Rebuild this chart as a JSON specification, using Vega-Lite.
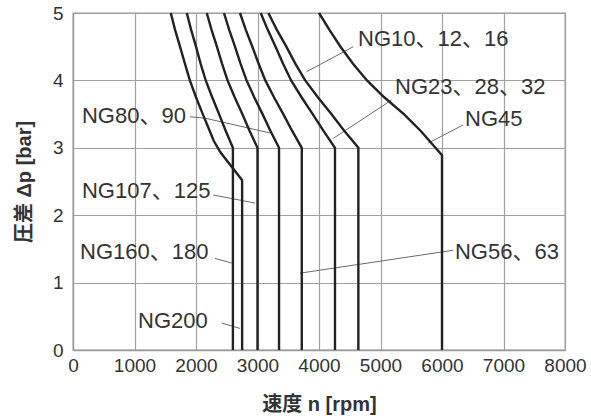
{
  "$schema": "https://vega.github.io/schema/vega-lite/v6.json",
  "width": 492,
  "height": 337,
  "autosize": {"type": "none"},
  "padding": {"left": 73, "top": 13, "right": 26, "bottom": 68},
  "background": "white",
  "config": {
    "font": "Liberation Sans, Noto Sans CJK JP, sans-serif",
    "view": {"stroke": "#9a9a9a", "strokeWidth": 1.3},
    "axis": {
      "grid": true,
      "gridColor": "#a0a0a0",
      "gridWidth": 1.2,
      "domainColor": "#9a9a9a",
      "domainWidth": 1.3,
      "ticks": false,
      "labelOverlap": false,
      "labelFlush": false,
      "labelFontSize": 19,
      "labelColor": "#333333",
      "titleFontSize": 20,
      "titleFontWeight": "bold",
      "titleColor": "#333333"
    }
  },
  "datasets": {
    "curves": [
      {"s": 1, "i": 1, "n": 1590, "p": 5},
      {"s": 1, "i": 2, "n": 1660, "p": 4.75},
      {"s": 1, "i": 3, "n": 1740, "p": 4.5},
      {"s": 1, "i": 4, "n": 1820, "p": 4.25},
      {"s": 1, "i": 5, "n": 1900, "p": 4},
      {"s": 1, "i": 6, "n": 2000, "p": 3.75},
      {"s": 1, "i": 7, "n": 2110, "p": 3.5},
      {"s": 1, "i": 8, "n": 2200, "p": 3.3},
      {"s": 1, "i": 9, "n": 2290, "p": 3.1},
      {"s": 1, "i": 10, "n": 2400, "p": 2.93},
      {"s": 1, "i": 11, "n": 2580, "p": 2.72},
      {"s": 1, "i": 12, "n": 2750, "p": 2.52},
      {"s": 1, "i": 13, "n": 2750, "p": 0},
      {"s": 2, "i": 1, "n": 1850, "p": 5},
      {"s": 2, "i": 2, "n": 1921, "p": 4.75},
      {"s": 2, "i": 3, "n": 2000, "p": 4.5},
      {"s": 2, "i": 4, "n": 2075, "p": 4.25},
      {"s": 2, "i": 5, "n": 2158, "p": 4},
      {"s": 2, "i": 6, "n": 2263, "p": 3.75},
      {"s": 2, "i": 7, "n": 2375, "p": 3.5},
      {"s": 2, "i": 8, "n": 2484, "p": 3.25},
      {"s": 2, "i": 9, "n": 2600, "p": 3},
      {"s": 2, "i": 10, "n": 2600, "p": 0},
      {"s": 3, "i": 1, "n": 2175, "p": 5},
      {"s": 3, "i": 2, "n": 2253, "p": 4.75},
      {"s": 3, "i": 3, "n": 2340, "p": 4.5},
      {"s": 3, "i": 4, "n": 2423, "p": 4.25},
      {"s": 3, "i": 5, "n": 2513, "p": 4},
      {"s": 3, "i": 6, "n": 2629, "p": 3.75},
      {"s": 3, "i": 7, "n": 2753, "p": 3.5},
      {"s": 3, "i": 8, "n": 2872, "p": 3.25},
      {"s": 3, "i": 9, "n": 3000, "p": 3},
      {"s": 3, "i": 10, "n": 3000, "p": 0},
      {"s": 4, "i": 1, "n": 2455, "p": 5},
      {"s": 4, "i": 2, "n": 2540, "p": 4.75},
      {"s": 4, "i": 3, "n": 2634, "p": 4.5},
      {"s": 4, "i": 4, "n": 2724, "p": 4.25},
      {"s": 4, "i": 5, "n": 2822, "p": 4},
      {"s": 4, "i": 6, "n": 2947, "p": 3.75},
      {"s": 4, "i": 7, "n": 3082, "p": 3.5},
      {"s": 4, "i": 8, "n": 3211, "p": 3.25},
      {"s": 4, "i": 9, "n": 3350, "p": 3},
      {"s": 4, "i": 10, "n": 3350, "p": 0},
      {"s": 5, "i": 1, "n": 2715, "p": 5},
      {"s": 5, "i": 2, "n": 2810, "p": 4.75},
      {"s": 5, "i": 3, "n": 2916, "p": 4.5},
      {"s": 5, "i": 4, "n": 3017, "p": 4.25},
      {"s": 5, "i": 5, "n": 3127, "p": 4},
      {"s": 5, "i": 6, "n": 3268, "p": 3.75},
      {"s": 5, "i": 7, "n": 3419, "p": 3.5},
      {"s": 5, "i": 8, "n": 3564, "p": 3.25},
      {"s": 5, "i": 9, "n": 3720, "p": 3},
      {"s": 5, "i": 10, "n": 3720, "p": 0},
      {"s": 6, "i": 1, "n": 3052, "p": 5},
      {"s": 6, "i": 2, "n": 3167, "p": 4.75},
      {"s": 6, "i": 3, "n": 3294, "p": 4.5},
      {"s": 6, "i": 4, "n": 3414, "p": 4.25},
      {"s": 6, "i": 5, "n": 3547, "p": 4},
      {"s": 6, "i": 6, "n": 3716, "p": 3.75},
      {"s": 6, "i": 7, "n": 3898, "p": 3.5},
      {"s": 6, "i": 8, "n": 4073, "p": 3.25},
      {"s": 6, "i": 9, "n": 4260, "p": 3},
      {"s": 6, "i": 10, "n": 4260, "p": 0},
      {"s": 7, "i": 1, "n": 3176, "p": 5},
      {"s": 7, "i": 2, "n": 3315, "p": 4.75},
      {"s": 7, "i": 3, "n": 3469, "p": 4.5},
      {"s": 7, "i": 4, "n": 3615, "p": 4.25},
      {"s": 7, "i": 5, "n": 3776, "p": 4},
      {"s": 7, "i": 6, "n": 3981, "p": 3.75},
      {"s": 7, "i": 7, "n": 4201, "p": 3.5},
      {"s": 7, "i": 8, "n": 4413, "p": 3.25},
      {"s": 7, "i": 9, "n": 4640, "p": 3},
      {"s": 7, "i": 10, "n": 4640, "p": 0},
      {"s": 8, "i": 1, "n": 4000, "p": 5},
      {"s": 8, "i": 2, "n": 4170, "p": 4.75},
      {"s": 8, "i": 3, "n": 4350, "p": 4.5},
      {"s": 8, "i": 4, "n": 4550, "p": 4.25},
      {"s": 8, "i": 5, "n": 4780, "p": 4},
      {"s": 8, "i": 6, "n": 5060, "p": 3.75},
      {"s": 8, "i": 7, "n": 5380, "p": 3.5},
      {"s": 8, "i": 8, "n": 5655, "p": 3.25},
      {"s": 8, "i": 9, "n": 6000, "p": 2.89},
      {"s": 8, "i": 10, "n": 6000, "p": 0}
    ],
    "leaders": [
      {"s": 1, "i": 1, "n": 4558, "p": 4.5},
      {"s": 1, "i": 2, "n": 3800, "p": 4.13},
      {"s": 2, "i": 1, "n": 5182, "p": 3.71},
      {"s": 2, "i": 2, "n": 4233, "p": 3.14},
      {"s": 3, "i": 1, "n": 6346, "p": 3.34},
      {"s": 3, "i": 2, "n": 5777, "p": 3.07},
      {"s": 4, "i": 1, "n": 1902, "p": 3.46},
      {"s": 4, "i": 2, "n": 2146, "p": 3.44},
      {"s": 4, "i": 3, "n": 3203, "p": 3.22},
      {"s": 5, "i": 1, "n": 2280, "p": 2.3},
      {"s": 5, "i": 2, "n": 2960, "p": 2.18},
      {"s": 6, "i": 1, "n": 2309, "p": 1.36},
      {"s": 6, "i": 2, "n": 2580, "p": 1.29},
      {"s": 7, "i": 1, "n": 2418, "p": 0.4},
      {"s": 7, "i": 2, "n": 2715, "p": 0.32},
      {"s": 8, "i": 1, "n": 6184, "p": 1.48},
      {"s": 8, "i": 2, "n": 3691, "p": 1.14}
    ],
    "labels": [
      {"t": "NG10、12、16", "n": 4634, "p": 4.61},
      {"t": "NG23、28、32", "n": 5236, "p": 3.9},
      {"t": "NG45", "n": 6374, "p": 3.43},
      {"t": "NG80、90", "n": 146, "p": 3.47},
      {"t": "NG107、125", "n": 146, "p": 2.36},
      {"t": "NG160、180", "n": 114, "p": 1.45},
      {"t": "NG200", "n": 1057, "p": 0.43},
      {"t": "NG56、63", "n": 6211, "p": 1.45}
    ]
  },
  "encoding": {
    "x": {
      "field": "n",
      "type": "quantitative",
      "scale": {"domain": [0, 8000], "nice": false},
      "axis": {
        "values": [0, 1000, 2000, 3000, 4000, 5000, 6000, 7000, 8000],
        "format": "d",
        "labelPadding": 6,
        "title": "速度 n [rpm]",
        "titlePadding": 19
      }
    },
    "y": {
      "field": "p",
      "type": "quantitative",
      "scale": {"domain": [0, 5], "nice": false},
      "axis": {
        "values": [0, 1, 2, 3, 4, 5],
        "labelPadding": 10,
        "title": "圧差 Δp [bar]",
        "titlePadding": 18
      }
    }
  },
  "layer": [
    {
      "data": {"name": "leaders"},
      "mark": {"type": "line", "color": "#6a6a6a", "strokeWidth": 1},
      "encoding": {
        "detail": {"field": "s"},
        "order": {"field": "i", "type": "quantitative"}
      }
    },
    {
      "data": {"name": "curves"},
      "mark": {"type": "line", "color": "#222222", "strokeWidth": 2.4},
      "encoding": {
        "detail": {"field": "s"},
        "order": {"field": "i", "type": "quantitative"}
      }
    },
    {
      "data": {"name": "labels"},
      "mark": {"type": "text", "align": "left", "baseline": "middle", "fontSize": 22, "color": "#333333"},
      "encoding": {
        "text": {"field": "t"}
      }
    }
  ]
}
